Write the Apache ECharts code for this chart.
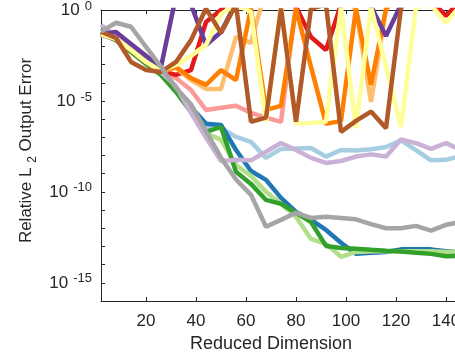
<!DOCTYPE html>
<html>
<head>
<meta charset="utf-8">
<script src="https://cdn.jsdelivr.net/npm/echarts@6/dist/echarts.min.js"></script>
<style>
html,body{margin:0;padding:0;background:#fff;}
#chart{width:455px;height:360px;}
</style>
</head>
<body>
<div id="chart"></div>
<script>
// Reduced dimensions (x)
var xDims = [2,8,14,20,26,32,38,44,50,56,62,68,74,80,86,92,98,104,110,116,122,128,134,140,146];
var xTickValues = [20,40,60,80,100,120,140];
var yLabelExponents = [0,-5,-10,-15];

// Relative L2 output error per method
var errLightBlue = [4.3e-2,2.2e-2,6.3e-3,1.2e-3,2.7e-4,4.0e-5,4.2e-6,3.7e-7,3.3e-7,1.05e-7,5.6e-8,7.4e-9,2.3e-8,2.45e-8,2.6e-8,8.7e-9,2.0e-8,1.9e-8,2.2e-8,2.95e-8,6.8e-8,2.0e-8,5.4e-9,5.75e-9,9.5e-9];
var errBlue = [4.8e-2,2.6e-2,6.3e-3,1.4e-3,3.5e-4,5.1e-5,4.7e-6,5.5e-7,4.8e-7,2.0e-8,1.4e-9,4.6e-10,4.7e-11,7.9e-12,2.9e-12,8.1e-13,1.6e-13,3.9e-14,4.5e-14,5.0e-14,6.9e-14,6.9e-14,6.9e-14,5.4e-14,5.4e-14];
var errLightGreen = [5.5e-2,2.9e-2,6.3e-3,1.2e-3,3.0e-4,4.0e-5,3.2e-6,1.7e-7,7.2e-8,3.0e-9,7.6e-10,1.0e-10,2.2e-11,4.3e-12,2.6e-13,1.4e-13,2.7e-14,5.0e-14,5.4e-14,5.4e-14,5.4e-14,5.4e-14,5.4e-14,5.0e-14,5.75e-14];
var errGreen = [5.5e-2,2.2e-2,4.9e-3,1.07e-3,2.7e-4,3.1e-5,2.5e-6,2.0e-7,3.7e-7,1.26e-9,2.75e-10,3.6e-11,2.2e-11,7.1e-12,2.2e-12,1.07e-13,8.3e-14,7.4e-14,6.5e-14,5.75e-14,5.25e-14,4.5e-14,3.9e-14,2.9e-14,3.0e-14];
var errPink = [4.8e-2,2.6e-2,6.3e-3,1.4e-3,3.9e-4,1.8e-4,4.0e-5,3.2e-6,4.2e-6,5.4e-6,2.2e-6,1.2e-6,7.0e-7,2,10,10,10,10,10,10,10,10,10,10,10];
var errRed = [4.8e-2,2.6e-2,6.3e-3,1.4e-3,4.5e-4,2.7e-4,5.0e-4,2.2e-1,1.0,10,10,10,10,1.5,3.3e-2,6.3e-3,2,10,10,10,10,10,3.5,4.7e-1,3.5];
var errLightOrange = [4.8e-2,2.6e-2,6.3e-3,1.4e-3,4.5e-4,6.5e-4,1.4e-4,4.6e-5,4.6e-5,3.3e-2,1.55e-2,16,10,10,10,10,10,1.0,8.9e-6,1.0,10,10,10,10,10];
var errOrange = [4.8e-2,2.6e-2,6.3e-3,1.4e-3,4.5e-4,7.4e-4,1.8e-4,7.6e-5,5.0e-4,1.4e-4,1.2,3.2e-6,5.4e-6,1.2,7.4e-4,5.5e-7,8.0e-7,1.2,7.6e-5,1.2,10,10,10,10,10];
var errLightPurple = [1.5e-1,3.7e-2,7.2e-3,1.6e-3,3.9e-4,6.6e-5,2.2e-6,9.3e-8,5.0e-9,5.75e-9,5.4e-9,1.6e-8,4.9e-8,2.0e-8,7.4e-9,3.9e-9,5.0e-9,8.7e-9,1.15e-8,8.7e-9,7.6e-8,4.8e-8,2.3e-8,4.8e-8,2.0e-8];
var errPurple = [4.8e-2,6.2e-2,1.35e-2,3.0e-3,7.4e-4,6,2,1.2e-2,6.2e-2,2.5,10,10,10,10,10,10,10,10,1.6,3.7e-2,2,10,10,10,10];
var errYellow = [4.8e-2,2.6e-2,6.3e-3,1.4e-3,4.5e-4,9.5e-4,3.0e-3,1.2e-2,6.0e-1,2,7.8e-1,7.1e-7,2,5.75e-7,6.2e-7,7.1e-7,1.5,3.2e-7,1.5,7.4e-4,3.7e-7,1.5,1.9,1.95e-1,1.9];
var errBrown = [6.5e-2,2.9e-2,1.4e-3,5.0e-4,3.9e-4,1.4e-3,2.2e-2,1.2,5.5e-2,2,7.2e-7,1.2e-6,1.2,7.2e-7,1.2,2,2.0e-7,8.0e-7,2.6e-6,3.2e-7,1.3,10,10,10,10];
var errGray = [6.5e-2,2.0e-1,1.2e-1,9.3e-3,7.4e-4,5.1e-5,6.5e-6,2.2e-7,7.6e-9,4.8e-10,6.9e-11,1.2e-12,2.9e-12,7.1e-12,3.7e-12,4.3e-12,3.7e-12,3.1e-12,1.7e-12,1.0e-12,1.0e-12,1.35e-12,7.4e-13,1.55e-12,2.2e-12];

var seriesList = [
  {data: errLightBlue, color: '#a6cee3'},
  {data: errBlue, color: '#1f78b4'},
  {data: errLightGreen, color: '#b2df8a'},
  {data: errGreen, color: '#33a02c'},
  {data: errPink, color: '#fb9a99'},
  {data: errRed, color: '#e31a1c'},
  {data: errLightOrange, color: '#fdbf6f'},
  {data: errOrange, color: '#ff7f00'},
  {data: errLightPurple, color: '#cab2d6'},
  {data: errPurple, color: '#6a3d9a'},
  {data: errYellow, color: '#ffff99'},
  {data: errBrown, color: '#b15928'},
  {data: errGray, color: '#a5a5a5'}
];

var FONT = '"Liberation Sans", Arial, Helvetica, sans-serif';
var TXT = '#262626';

var chart = echarts.init(document.getElementById('chart'), null, {renderer: 'canvas'});

var series = seriesList.map(function (s) {
  return {
    type: 'line',
    xAxisIndex: 0,
    yAxisIndex: 0,
    data: xDims.map(function (x, i) { return [x, s.data[i]]; }),
    showSymbol: false,
    symbol: 'none',
    clip: true,
    lineStyle: {color: s.color, width: 4.5},
    itemStyle: {color: s.color},
    emphasis: {disabled: true},
    silent: true
  };
});

var option = {
  animation: false,
  backgroundColor: '#fff',
  grid: {left: 101, top: 10, width: 370, height: 291, containLabel: false, outerBoundsMode: 'none'},
  xAxis: [{
    type: 'value', min: 2, max: 150, position: 'bottom',
    axisLine: {show: true, onZero: false, lineStyle: {color: TXT, width: 1}},
    axisTick: {show: true, inside: true, length: 4, customValues: xTickValues, lineStyle: {color: TXT, width: 1}},
    axisLabel: {show: true, customValues: xTickValues, color: TXT, fontSize: 17, fontFamily: FONT, margin: 12},
    splitLine: {show: false},
    name: 'Reduced Dimension', nameLocation: 'middle', nameGap: 34,
    nameTextStyle: {color: TXT, fontSize: 18, fontFamily: FONT, padding: [0, 30, 0, 0]}
  }, {
    type: 'value', min: 2, max: 150, position: 'top',
    axisLine: {show: true, onZero: false, lineStyle: {color: TXT, width: 1}},
    axisTick: {show: true, inside: true, length: 4, customValues: xTickValues, lineStyle: {color: TXT, width: 1}},
    axisLabel: {show: false},
    splitLine: {show: false}
  }],
  yAxis: [{
    type: 'log', logBase: 10, min: 1e-16, max: 1, interval: 1, position: 'left',
    axisLine: {show: true, lineStyle: {color: TXT, width: 1}},
    axisTick: {show: true, inside: true, length: 4, lineStyle: {color: TXT, width: 1}},
    splitLine: {show: false},
    axisLabel: {
      show: true, margin: 9, color: TXT, fontFamily: FONT,
      formatter: function (v) {
        var e = Math.round(Math.log10(v));
        if (yLabelExponents.indexOf(e) < 0) return '';
        return '{b|10}{s|' + e + '}';
      },
      rich: {
        b: {fontSize: 17, lineHeight: 21, color: TXT, fontFamily: FONT},
        s: {fontSize: 13, lineHeight: 13, verticalAlign: 'top', color: TXT, fontFamily: FONT, padding: [0, 0, 0, 5]}
      }
    },
    name: 'Relative L {sub|2} Output Error', nameLocation: 'middle', nameGap: 62, nameRotate: 90,
    nameTextStyle: {
      color: TXT, fontSize: 17, fontFamily: FONT, lineHeight: 24, padding: [0, 0, 0, 10],
      rich: {sub: {fontSize: 12, lineHeight: 12, verticalAlign: 'bottom', color: TXT, fontFamily: FONT}}
    }
  }],
  series: series
};

chart.setOption(option);
</script>
</body>
</html>
